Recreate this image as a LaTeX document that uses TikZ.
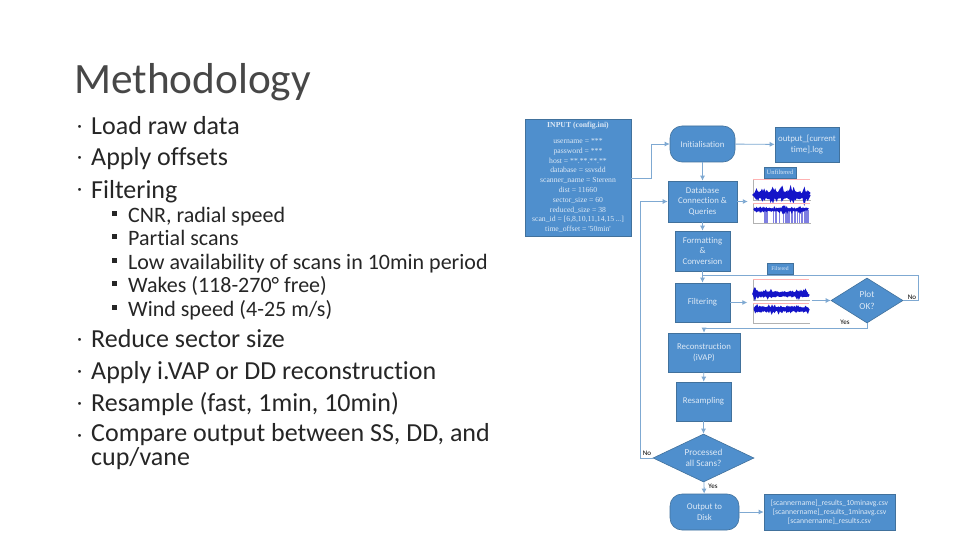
\documentclass[tikz,border=0pt]{standalone}
\usepackage{fontspec}
\setmainfont[Ligatures=NoCommon]{Carlito}
\newfontfamily\boxserif{Liberation Serif}
\usetikzlibrary{arrows.meta}
\usetikzlibrary{shapes.geometric}
\definecolor{boxblue}{HTML}{4F8FCD}
\definecolor{boxedge}{HTML}{41719C}
\definecolor{boxtext}{HTML}{DDE9F6}
\definecolor{flowline}{HTML}{7FA9D2}
\definecolor{slidetext}{HTML}{262626}
\definecolor{traceblue}{HTML}{1414C8}
\newcommand{\fsize}[2]{\fontsize{#1}{#2}\selectfont}
\newcommand{\plotaxes}[4]{%
	\draw[plotaxis] (#1,#2) -- (#1,#4) -- (#3,#4);
	\draw[plotaxis, red!30] (#1,#2) -- (#3,#2);
	\foreach \t in {0,...,7} {\draw[plotaxis] ({#1+\t*(#3-#1)/7},#4) -- ++(0,1);}
}
\newcommand{\plotband}[5]{%
	\draw[traceblue, line width=#5] plot[domain=#1:#2, samples=120] (\x, {#3+#4*rnd});
}
\tikzset{
	box/.style={rectangle, draw=boxedge, fill=boxblue, text=boxtext, align=center, inner sep=0pt, line width=0.6pt, font=\fsize{8.8}{10.7}},
	startstop/.style={box, rounded corners=12pt},
	decision/.style={box, diamond, aspect=1.6, font=\fsize{9.2}{11.5}},
	tag/.style={box, font=\boxserif\fsize{6.5}{7}},
	flow/.style={flowline, line width=0.9pt, -{Latex[length=5pt, width=5pt]}},
	flowplain/.style={flowline, line width=0.9pt},
	answer/.style={text=black, inner sep=0pt, font=\fsize{7}{8}},
	plotaxis/.style={gray!60, line width=0.25pt},
	item/.style={anchor=base west, inner sep=0pt, text=slidetext, font=\fsize{26}{28}},
	subitem/.style={anchor=base west, inner sep=0pt, text=slidetext, font=\fsize{22}{24}},
	plotspot/.style={inner sep=0pt, minimum width=64pt, minimum height=46pt},
}
\begin{document}
\begin{tikzpicture}[x=1pt, y=-1pt]
	\useasboundingbox (0,0) rectangle (960,540);
	\fill[white] (0,0) rectangle (960,540);

	\node[anchor=base west, inner sep=0pt, text=slidetext!85!white, font=\fsize{43.3}{46}] (title) at (74,94) {Methodology};

	\foreach \y/\txt in {135/Load raw data, 166/Apply offsets, 198/Filtering, 347/Reduce sector size, 379/Apply i.VAP or DD reconstruction, 411/Resample (fast{,} 1min{,} 10min)} {
		\node[item] (item\y) at (91,\y) {\txt};
		\node[item, font=\fsize{20}{22}] (dot\y) at (77,\y-2) {·};
	}
	\node[item, align=left, font=\fsize{26}{22}] (itemlast) at (91,465) {Compare output between SS, DD, and\\cup/vane};
	\node[item, font=\fsize{20}{22}] (dotlast) at (77,441) {·};

	\foreach \y/\txt in {222/{CNR, radial speed}, 245/Partial scans, 269/Low availability of scans in 10min period, 292/Wakes (118-270° free), 316/{Wind speed (4-25 m/s)}} {
		\node[subitem] (sub\y) at (128,\y) {\txt};
		\node[anchor=south west, inner sep=0pt, fill=slidetext, minimum size=5pt] (mark\y) at (112,\y-6) {};
	}

	\node[box, minimum width=106pt, minimum height=117pt, font=\boxserif\fsize{7.7}{9.8}] (input) at (578,177.5) {{\bfseries INPUT (config.ini)}\\[6pt]
		username = ***\\password = ***\\host = **.**.**.**\\database = ssvsdd\\scanner\_name = Sterenn\\dist = 11660\\sector\_size = 60\\reduced\_size = 38\\scan\_id = [6,8,10,11,14,15\,...]\\time\_offset = '50min'};

	\node[startstop, minimum width=65pt, minimum height=36pt] (init) at (702.5,144) {Initialisation};
	\node[box, minimum width=64pt, minimum height=35pt] (logfile) at (807,144.5) {output\_[current\\time].log};
	\node[box, minimum width=69pt, minimum height=41pt] (database) at (702.5,201.5) {Database\\Connection \&\\Queries};
	\node[box, minimum width=55pt, minimum height=40pt] (format) at (702.5,251) {Formatting\\\&\\Conversion};
	\node[box, minimum width=55pt, minimum height=39pt] (filter) at (702.5,302.5) {Filtering};
	\node[decision, minimum width=72pt, minimum height=45pt] (plotok) at (867,300.5) {Plot\\OK?};
	\node[box, minimum width=72pt, minimum height=39pt] (recon) at (704,352.5) {Reconstruction\\(iVAP)};
	\node[box, minimum width=55pt, minimum height=39pt] (resample) at (703.5,401.5) {Resampling};
	\node[decision, minimum width=101pt, minimum height=48pt] (scansdone) at (703.5,458) {Processed\\all Scans?};
	\node[startstop, minimum width=69pt, minimum height=36pt] (disk) at (704.5,512) {Output to\\Disk};
	\node[box, minimum width=131pt, minimum height=36pt, font=\fsize{7.7}{9.1}] (results) at (829.5,512) {[scannername]\_results\_10minavg.csv\\[0pt][scannername]\_results\_1minavg.csv\\[0pt][scannername]\_results.csv};

	\node[tag, minimum width=32pt, minimum height=11pt] (unfilteredtag) at (780,172.5) {Unfiltered};
	\node[tag, minimum width=26pt, minimum height=11pt, font=\boxserif\fsize{5.6}{6}] (filteredtag) at (780,268.5) {Filtered};

	\node[plotspot] (rawplots) at (780,201) {};
	\node[plotspot] (cleanplots) at (779.5,301.5) {};

	\pgfmathsetseed{11}
	\plotaxes{753}{179}{810}{200}
	\plotband{754}{809}{194}{2.5}{4.5pt}
	\plotaxes{753}{203}{810}{223}
	\foreach \x in {764,765,766,767,773,775,776,779,783,785,786,787,788,789,791,792,794,795,797,799,801,802,804,805,806,807,808} {\draw[traceblue!55, line width=0.4pt] (\x,210) -- (\x,223);}
	\plotband{754}{808}{209}{1.5}{2.5pt}
	\plotaxes{753}{279}{809}{300}
	\plotband{754}{808}{293.5}{1.5}{4pt}
	\plotaxes{753}{303}{809}{323}
	\plotband{754}{808}{308.5}{1.5}{3.5pt}

	\coordinate (inputbend) at (651,178);
	\coordinate (retryleft) at (640,458);
	\coordinate (okright) at (918,300.5);
	\coordinate (okback) at (702.5,275);
	\coordinate (okdown) at (867,328);

	\draw[flow] (input.east |- inputbend) -- (inputbend) |- (init.west);
	\draw[flow] (init) -- (logfile);
	\draw[flow] (init) -- (database);
	\draw[flow] (database) -- (format);
	\draw[flow] (database.east) -- (rawplots.west |- database.east);
	\draw[flow] (filter.east) -- (cleanplots.west |- filter.east);
	\draw[flow] (cleanplots.east |- plotok.west) -- (plotok.west);
	\draw[flowplain] (format) -- (okback);
	\draw[flow] (plotok.east) -- (okright) |- (okback) -- (filter);
	\draw[flow] (plotok.south) -- (okdown) -| (recon.north);
	\draw[flow] (recon) -- (resample);
	\draw[flow] (resample) -- (scansdone);
	\draw[flow] (scansdone.west) -- (retryleft) |- (database.west);
	\draw[flow] (scansdone) -- (disk);
	\draw[flow] (disk) -- (results);

	\node[answer] (okno) at (912,297) {No};
	\node[answer] (okyes) at (845,322) {Yes};
	\node[answer] (retryno) at (647,453) {No};
	\node[answer] (doneyes) at (713,486) {Yes};
\end{tikzpicture}
\end{document}
